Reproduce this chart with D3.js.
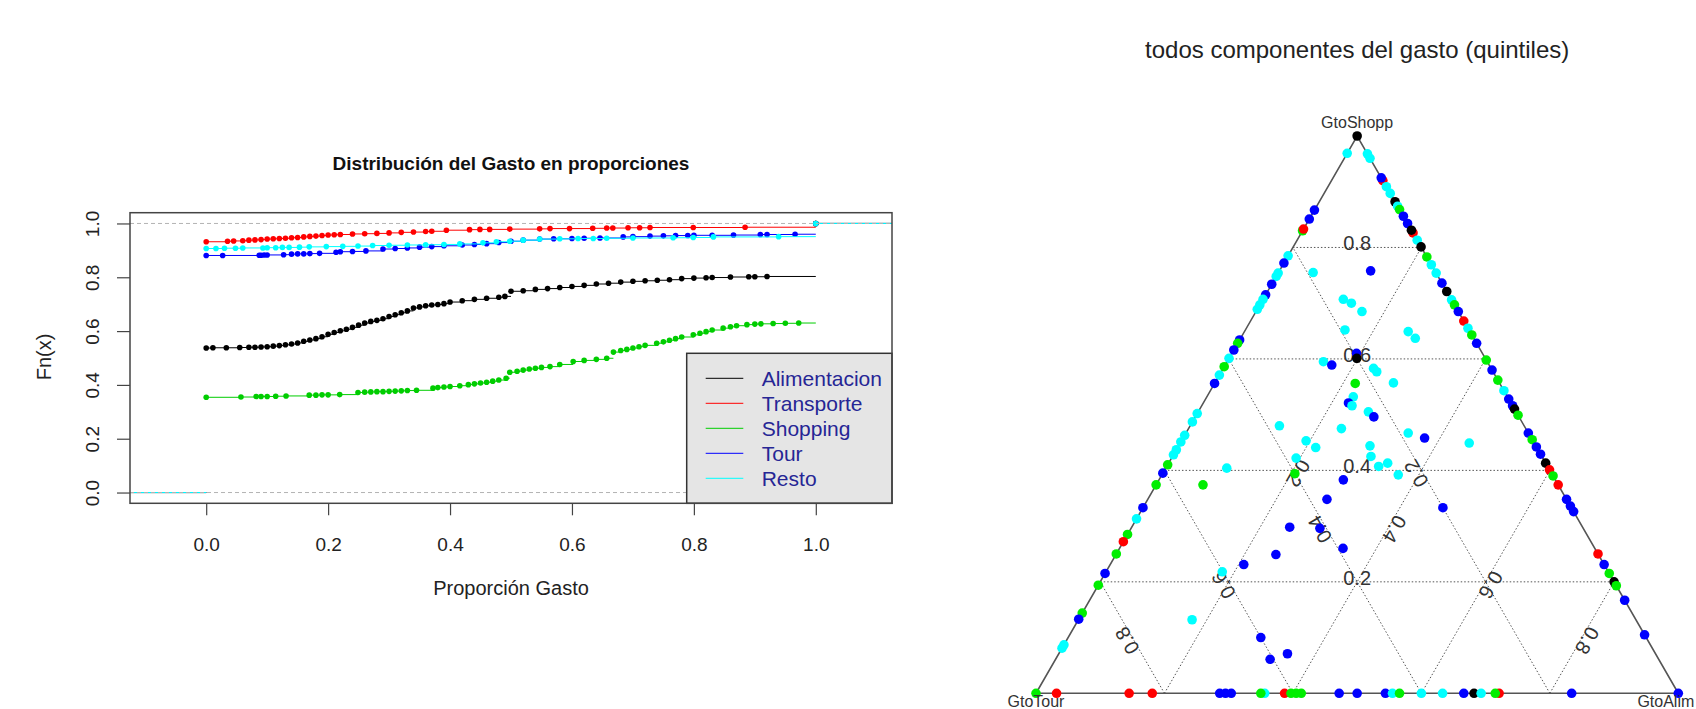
<!DOCTYPE html>
<html>
<head>
<meta charset="utf-8">
<script src="https://cdn.jsdelivr.net/npm/d3@7"></script>
<style>
  body { margin: 0; background: #fff; }
  svg { display: block; font-family: "Liberation Sans", Arial, sans-serif; }
</style>
</head>
<body>
<svg id="chart" width="1696" height="709"></svg>
<script>
// ---------- left panel data: ECDF knots (x = proporcion, y = Fn(x)) ----------
const seriesNames = ["Alimentacion", "Transporte", "Shopping", "Tour", "Resto"]
const seriesColors = ["#000000", "#ff0000", "#00cd00", "#0000ff", "#00ffff"]
const xTicks = [0, 0.2, 0.4, 0.6, 0.8, 1]
const yTicks = [0, 0.2, 0.4, 0.6, 0.8, 1]

const alimX = [0, .011, .033, .055, .07, .08, .09, .10, .11, .12, .13, .14, .15, .16, .17, .18, .19, .20, .21, .22,
  .23, .24, .25, .26, .27, .28, .29, .30, .31, .32, .33, .34, .35, .36, .37, .38, .39, .40, .42, .44,
  .46, .48, .49, .50, .52, .54, .56, .58, .60, .62, .64, .66, .68, .70, .72, .74, .76, .78, .80, .82,
  .83, .86, .89, .90, .92, 1]
const alimY = [.537, .538, .538, .539, .540, .540, .541, .542, .544, .546, .549, .552, .556, .562, .567, .572, .579, .588, .595, .601,
  .607, .614, .622, .630, .636, .640, .646, .654, .661, .668, .675, .686, .690, .694, .697, .699, .702, .708, .713, .718,
  .722, .726, .729, .748, .750, .755, .758, .762, .766, .770, .775, .778, .782, .785, .787, .789, .791, .795, .797, .798,
  .799, .801, .802, .802, .803, 1]

const transX = [0, .035, .045, .06, .07, .08, .09, .10, .11, .12, .13, .14, .15, .16, .17, .18, .19, .20, .21, .22,
  .24, .26, .28, .30, .32, .34, .36, .37, .394, .432, .449, .465, .498, .547, .564, .596, .634, .657, .667, .692,
  .711, .728, .799, .884, 1]
const transY = [.932, .934, .935, .936, .938, .939, .940, .942, .943, .944, .945, .947, .948, .950, .952, .953, .955, .957, .958, .959,
  .961, .962, .963, .965, .967, .968, .970, .971, .975, .977, .978, .978, .979, .980, .981, .981, .982, .983, .983, .984,
  .984, .985, .985, .986, 1]

const shopX = [0, .057, .082, .09, .10, .114, .131, .169, .18, .19, .20, .219, .249, .26, .27, .28, .29, .30, .31, .32,
  .33, .345, .372, .38, .39, .40, .416, .43, .44, .45, .46, .47, .48, .492, .498, .51, .52, .53, .54, .55,
  .564, .58, .602, .62, .64, .657, .668, .68, .69, .70, .71, .72, .739, .75, .76, .77, .78, .799, .81, .82,
  .83, .848, .86, .87, .887, .90, .91, .93, .95, .972, 1]
const shopY = [.354, .355, .357, .357, .357, .358, .359, .362, .362, .363, .363, .364, .372, .373, .374, .375, .375, .376, .377, .378,
  .379, .380, .388, .390, .392, .394, .397, .401, .404, .407, .410, .414, .418, .425, .447, .451, .455, .459, .462, .465,
  .468, .476, .487, .491, .495, .499, .522, .528, .532, .537, .542, .547, .555, .560, .566, .572, .578, .586, .592, .598,
  .604, .611, .616, .620, .624, .626, .627, .628, .629, .630, 1]

const tourX = [0, .027, .087, .09, .095, .10, .127, .14, .15, .16, .17, .186, .213, .22, .24, .262, .29, .31, .33, .35,
  .37, .39, .42, .44, .46, .48, .50, .52, .547, .57, .60, .62, .646, .684, .70, .728, .75, .77, .79, .80,
  .83, .865, .909, .92, .966, 1]
const tourY = [.881, .881, .882, .882, .883, .883, .884, .886, .887, .887, .888, .889, .893, .895, .896, .898, .905, .907, .909, .912,
  .914, .917, .920, .922, .925, .929, .934, .938, .942, .943, .944, .945, .946, .950, .951, .953, .954, .955, .955, .956,
  .956, .957, .959, .959, .960, 1]

const restoX = [0, .016, .03, .048, .06, .093, .10, .114, .125, .136, .153, .169, .197, .224, .249, .273, .30, .33, .36, .39,
  .416, .454, .476, .498, .52, .547, .58, .61, .635, .657, .70, .766, .799, .832, .939, 1]
const restoY = [.907, .907, .908, .908, .909, .909, .910, .910, .911, .911, .912, .913, .914, .915, .916, .918, .919, .920, .921, .922,
  .924, .928, .932, .934, .938, .942, .943, .944, .944, .945, .946, .947, .948, .950, .951, 1]

// ---------- right panel data: compositions (GtoTour, GtoAlim, GtoShopp), quintile 0..4 ----------
const qColors = ["#000000", "#ff0000", "#00ee00", "#0000ff", "#00ffff"]
const gridVals = [0.2, 0.4, 0.6, 0.8]

// edge GtoTour-GtoShopp (GtoAlim = 0)
const leftShopp = [.969, .867, .851, .83, .833, .785, .772, .754, .748, .734, .715, .707, .697, .689, .634, .628, .616, .601, .586, .571,
  .556, .502, .487, .463, .451, .437, .428, .41, .395, .374, .333, .313, .285, .272, .25, .215, .194, .144, .133, .087, .081]
const leftQ = [4, 3, 3, 2, 1, 4, 3, 4, 4, 3, 3, 4, 4, 4, 3, 2, 3, 4, 2, 4,
  3, 4, 4, 4, 4, 4, 4, 2, 3, 2, 3, 4, 2, 1, 2, 3, 2, 2, 3, 4, 4]

// edge GtoTour-GtoAlim (GtoShopp = 0)
const baseAlim = [.032, .145, .181, .286, .295, .304, .356, .350, .387, .397, .405, .413, .472, .5, .544, .555, .566, .6, .633, .666,
  .682, .693, .721, .715, .834]
const baseQ = [1, 1, 1, 3, 3, 3, 4, 2, 1, 2, 2, 2, 3, 3, 3, 4, 2, 4, 4, 3,
  0, 4, 1, 2, 3]

// edge GtoAlim-GtoShopp (GtoTour = 0)
const rightShopp = [.968, .96, .92, .925, .909, .897, .882, .874, .868, .856, .843, .826, .831, .813, .801, .783, .769, .754, .736, .721,
  .706, .697, .685, .668, .655, .643, .628, .598, .58, .562, .543, .528, .516, .51, .499, .467, .455, .442, .429, .413,
  .401, .39, .374, .348, .336, .326, .25, .231, .215, .2, .193, .167, .105]
const rightQ = [4, 4, 1, 3, 4, 4, 0, 4, 2, 3, 3, 1, 0, 4, 0, 2, 4, 4, 3, 0,
  4, 2, 3, 1, 4, 2, 3, 2, 3, 2, 4, 3, 3, 0, 2, 3, 2, 3, 3, 0,
  1, 2, 1, 3, 3, 3, 1, 3, 2, 0, 2, 3, 3]

// inside the triangle
const innerAlim = [.054, .142, .125, .141, .165, .155, .255, .272, .194, .199, .150, .166, .234, .242, .219, .278, .228, .226, .234, .265,
  .278, .139, .238, .346, .376, .194, .450, .215, .298, .309, .194, .341, .330, .095, .206, .368, .287, .073, .279, .467,
  .246, .294, .348, .249, .208, .181, .177, .300, .334, .356]
const innerShopp = [.755, .758, .707, .700, .685, .652, .649, .637, .610, .601, .595, .589, .583, .577, .556, .557, .532, .521, .516, .505,
  .496, .480, .475, .467, .458, .453, .449, .441, .444, .425, .422, .413, .407, .404, .394, .392, .383, .374, .348, .333,
  .298, .296, .260, .249, .231, .218, .132, .100, .061, .071]
const innerQ = [4, 3, 4, 4, 4, 4, 4, 4, 3, 0, 4, 3, 4, 4, 2, 4, 4, 3, 4, 4,
  3, 4, 4, 4, 3, 4, 4, 4, 4, 4, 4, 4, 4, 4, 2, 4, 3, 2, 3, 3,
  3, 3, 3, 3, 3, 4, 4, 3, 3, 3]

// corners: GtoShopp, GtoTour, GtoAlim
const cornerAlim = [0, 0, 1]
const cornerShopp = [1, 0, 0]
const cornerQ = [0, 2, 3]

// ============================================================
const width = 1696, height = 709
const svg = d3.select("#chart")
svg.append("rect").attr("width", width).attr("height", height).attr("fill", "#fff")

// define margins of the left panel
const margin = {top: 212.7, right: 804, bottom: 205.7, left: 130}

// define x scale
const x = d3.scaleLinear()
  .domain([-0.125, 1.125])
  .range([margin.left, width - margin.right])

// define y scale
const y = d3.scaleLinear()
  .domain([-0.04, 1.04])
  .range([height - margin.bottom, margin.top])

const series = [[alimX, alimY], [transX, transY], [shopX, shopY], [tourX, tourY], [restoX, restoY]]

// draw step functions and their knots
series.forEach(([xs, ys], k) => {
  const col = seriesColors[k]
  const g = svg.append("g")
  const segs = xs.map((d, i) => ({x0: d, x1: i + 1 < xs.length ? xs[i + 1] : x.domain()[1], y: ys[i]}))
  segs.unshift({x0: x.domain()[0], x1: xs[0], y: 0})
  g.selectAll("line")
    .data(segs)
    .enter()
    .append("line")
      .attr("x1", d => x(d.x0))
      .attr("x2", d => x(d.x1))
      .attr("y1", d => y(d.y))
      .attr("y2", d => y(d.y))
      .attr("stroke", col)
      .attr("stroke-width", 1)
  g.selectAll("circle")
    .data(xs)
    .enter()
    .append("circle")
      .attr("cx", d => x(d))
      .attr("cy", (d, i) => y(ys[i]))
      .attr("r", 2.8)
      .attr("fill", col)
})

// 0 and 1 reference lines
svg.selectAll(".ref")
  .data([0, 1])
  .enter()
  .append("line")
    .attr("x1", x.range()[0])
    .attr("x2", x.range()[1])
    .attr("y1", d => y(d))
    .attr("y2", d => y(d))
    .attr("stroke", "#b3b3b3")
    .attr("stroke-width", 1)
    .attr("stroke-dasharray", "4,3")

// legend
const legX = 686.7, legY = 353.3
svg.append("rect")
  .attr("x", legX).attr("y", legY)
  .attr("width", x.range()[1] - legX).attr("height", y.range()[0] - legY)
  .attr("fill", "#e5e5e5").attr("stroke", "#333").attr("stroke-width", 1.5)
const leg = svg.selectAll(".leg")
  .data(seriesNames)
  .enter()
  .append("g")
    .attr("transform", (d, i) => `translate(${legX},${legY + 25 + i * 25})`)
leg.append("line")
  .attr("x1", 19).attr("x2", 56.6)
  .attr("stroke", (d, i) => seriesColors[i]).attr("stroke-width", 1)
leg.append("text")
  .attr("x", 75).attr("dy", "0.36em")
  .attr("font-size", 21).attr("fill", "#262695")
  .text(d => d)

// plot box
svg.append("rect")
  .attr("x", x.range()[0]).attr("y", y.range()[1])
  .attr("width", x.range()[1] - x.range()[0]).attr("height", y.range()[0] - y.range()[1])
  .attr("fill", "none").attr("stroke", "#444").attr("stroke-width", 1.5)

// draw axes
const xAxis = svg.append("g")
  .attr("transform", "translate(0," + y.range()[0] + ")")
  .call(d3.axisBottom(x).tickValues(xTicks).tickFormat(d3.format(".1f")).tickSize(12).tickPadding(22))
xAxis.select(".domain").remove()
xAxis.selectAll("line").attr("stroke", "#444").attr("stroke-width", 1.2)
xAxis.selectAll("text").attr("font-size", 19).attr("fill", "#222").attr("font-family", null)

const yAxis = svg.append("g")
  .attr("transform", "translate(" + x.range()[0] + ",0)")
  .call(d3.axisLeft(y).tickValues(yTicks).tickFormat(d3.format(".1f")).tickSize(13))
yAxis.select(".domain").remove()
yAxis.selectAll("line").attr("stroke", "#444").attr("stroke-width", 1.2)
yAxis.selectAll("text")
  .attr("transform", "rotate(-90)")
  .attr("x", 0).attr("y", -31).attr("dy", null)
  .style("text-anchor", "middle")
  .attr("font-size", 19).attr("fill", "#222").attr("font-family", null)

svg.append("text")
  .attr("x", 511).attr("y", 170)
  .attr("text-anchor", "middle").attr("font-size", 19).attr("font-weight", "bold").attr("fill", "#111")
  .text("Distribución del Gasto en proporciones")
svg.append("text")
  .attr("x", 511).attr("y", 595)
  .attr("text-anchor", "middle").attr("font-size", 20).attr("fill", "#222")
  .text("Proporción Gasto")
svg.append("text")
  .attr("transform", "translate(51,357) rotate(-90)")
  .attr("text-anchor", "middle").attr("font-size", 20).attr("fill", "#222")
  .text("Fn(x)")

// ---------- right panel: ternary plot ----------
const tx = d3.scaleLinear().domain([0, 1]).range([1036, 1678.3])
const ty = d3.scaleLinear().domain([0, 1]).range([693.3, 136])
const tern = (a, s) => [tx(a + s / 2), ty(s)]

svg.append("text")
  .attr("x", tx(0.5)).attr("y", 58)
  .attr("text-anchor", "middle").attr("font-size", 24).attr("fill", "#222")
  .text("todos componentes del gasto (quintiles)")

const gridLines = []
gridVals.forEach(v => {
  gridLines.push([tern(0, v), tern(1 - v, v)])      // GtoShopp = v
  gridLines.push([tern(1 - v, 0), tern(0, 1 - v)])  // GtoTour = v
  gridLines.push([tern(v, 0), tern(v, 1 - v)])      // GtoAlim = v
})
svg.selectAll(".grid")
  .data(gridLines)
  .enter()
  .append("line")
    .attr("x1", d => d[0][0]).attr("y1", d => d[0][1])
    .attr("x2", d => d[1][0]).attr("y2", d => d[1][1])
    .attr("stroke", "#555").attr("stroke-width", 1)
    .attr("stroke-dasharray", "1.5,2")

svg.append("path")
  .attr("d", d3.line()([tern(0, 0), tern(1, 0), tern(0, 1)]) + "Z")
  .attr("fill", "none").attr("stroke", "#555").attr("stroke-width", 1.6)

// axis labels inside the triangle, along the medians
const tLabels = []
gridVals.forEach(v => {
  tLabels.push({p: tern((1 - v) / 2, v), rot: 0, dy: 3, v})          // GtoShopp
  tLabels.push({p: tern((1 - v) / 2, (1 - v) / 2), rot: -120, dy: 1, v}) // GtoTour
  tLabels.push({p: tern(v, (1 - v) / 2), rot: 120, dy: 1, v})         // GtoAlim
})
svg.selectAll(".tlab")
  .data(tLabels)
  .enter()
  .append("text")
    .attr("transform", d => `translate(${d.p[0]},${d.p[1]}) rotate(${d.rot})`)
    .attr("y", d => d.dy)
    .attr("text-anchor", "middle").attr("font-size", 20).attr("fill", "#333")
    .text(d => d3.format(".1f")(d.v))

// points
const pts = []
leftShopp.forEach((s, i) => pts.push({a: 0, s, q: leftQ[i]}))
baseAlim.forEach((a, i) => pts.push({a, s: 0, q: baseQ[i]}))
rightShopp.forEach((s, i) => pts.push({a: 1 - s, s, q: rightQ[i]}))
innerAlim.forEach((a, i) => pts.push({a, s: innerShopp[i], q: innerQ[i]}))
cornerAlim.forEach((a, i) => pts.push({a, s: cornerShopp[i], q: cornerQ[i]}))

svg.selectAll(".pt")
  .data(pts)
  .enter()
  .append("circle")
    .attr("cx", d => tern(d.a, d.s)[0])
    .attr("cy", d => tern(d.a, d.s)[1])
    .attr("r", 4.8)
    .attr("fill", d => qColors[d.q])

// corner names (kept inside the picture at the lower corners)
const corners = [
  {name: "GtoShopp", p: tern(0, 1), dy: -7.7, anchor: "middle", dx: 0},
  {name: "GtoTour", p: tern(0, 0), dy: 14, anchor: "middle", dx: 0},
  {name: "GtoAlim", p: tern(1, 0), dy: 14, anchor: "end", dx: 16}
]
svg.selectAll(".corner")
  .data(corners)
  .enter()
  .append("text")
    .attr("x", d => d.p[0] + d.dx).attr("y", d => d.p[1] + d.dy)
    .attr("text-anchor", d => d.anchor).attr("font-size", 16).attr("fill", "#333")
    .text(d => d.name)
</script>
